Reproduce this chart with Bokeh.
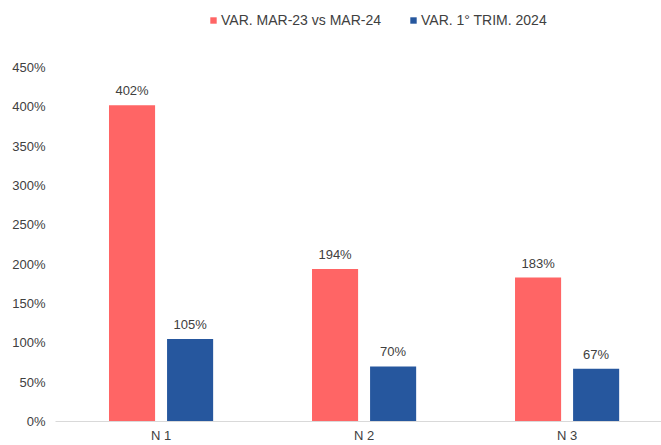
from bokeh.plotting import figure
from bokeh.models import ColumnDataSource, Range1d, FixedTicker, PrintfTickFormatter, Legend, LegendItem, LabelSet
from bokeh.core.properties import value
from bokeh.embed import file_html
from bokeh.resources import INLINE

categories = ["N 1", "N 2", "N 3"]
series_names = ["VAR. MAR-23 vs MAR-24", "VAR. 1° TRIM. 2024"]
var_mar = [402, 194, 183]
var_trim = [105, 70, 67]
y_ticks = [0, 50, 100, 150, 200, 250, 300, 350, 400, 450]

RED = "#FF6565"
BLUE = "#26579E"
TXT = "#404040"
FONT = "Liberation Sans"

xs = list(range(len(categories)))
off = 0.143
w = 0.227

p = figure(width=661, height=445, output_backend="svg", toolbar_location=None,
           x_range=Range1d(-0.52, 2.465), y_range=Range1d(0, 535.2),
           min_border_left=55, min_border_right=0, min_border_top=0, min_border_bottom=24)
p.outline_line_color = None
p.xgrid.visible = False
p.ygrid.visible = False

src_r = ColumnDataSource(dict(x=[x - off for x in xs], top=var_mar, lab=[f"{v}%" for v in var_mar]))
src_b = ColumnDataSource(dict(x=[x + off for x in xs], top=var_trim, lab=[f"{v}%" for v in var_trim]))

r1 = p.vbar(x="x", top="top", width=w, source=src_r, fill_color=RED, line_color=None)
r2 = p.vbar(x="x", top="top", width=w, source=src_b, fill_color=BLUE, line_color=None)

for src in (src_r, src_b):
    p.add_layout(LabelSet(x="x", y="top", text="lab", source=src, text_align="center",
                          text_baseline="bottom", y_offset=7, text_font=value(FONT),
                          text_font_size=value("13px"), text_color=value(TXT)))

p.xaxis.ticker = FixedTicker(ticks=xs)
p.xaxis.major_label_overrides = {i: c for i, c in enumerate(categories)}
p.xaxis.major_tick_line_color = None
p.xaxis.minor_tick_line_color = None
p.xaxis.major_tick_out = 0
p.xaxis.major_label_standoff = 6
p.xaxis.axis_line_color = "#D9D9D9"
p.xaxis.major_label_text_font = FONT
p.xaxis.major_label_text_font_size = "13px"
p.xaxis.major_label_text_color = TXT

p.yaxis.ticker = FixedTicker(ticks=y_ticks)
p.yaxis.formatter = PrintfTickFormatter(format="%d%%")
p.yaxis.axis_line_color = None
p.yaxis.major_tick_line_color = None
p.yaxis.minor_tick_line_color = None
p.yaxis.major_tick_out = 0
p.yaxis.major_label_standoff = 10
p.yaxis.major_label_text_font = FONT
p.yaxis.major_label_text_font_size = "13px"
p.yaxis.major_label_text_color = TXT

legend = Legend(items=[LegendItem(label=series_names[0], renderers=[r1]),
                       LegendItem(label=series_names[1], renderers=[r2])],
                orientation="horizontal", location=(154, 393),
                glyph_width=8, glyph_height=8, label_standoff=4, spacing=28,
                padding=0, margin=0, border_line_color=None, background_fill_alpha=0,
                label_text_font=FONT, label_text_font_size="14px", label_text_color=TXT)
p.add_layout(legend, "center")

open("out.html", "w").write(file_html(p, INLINE))
